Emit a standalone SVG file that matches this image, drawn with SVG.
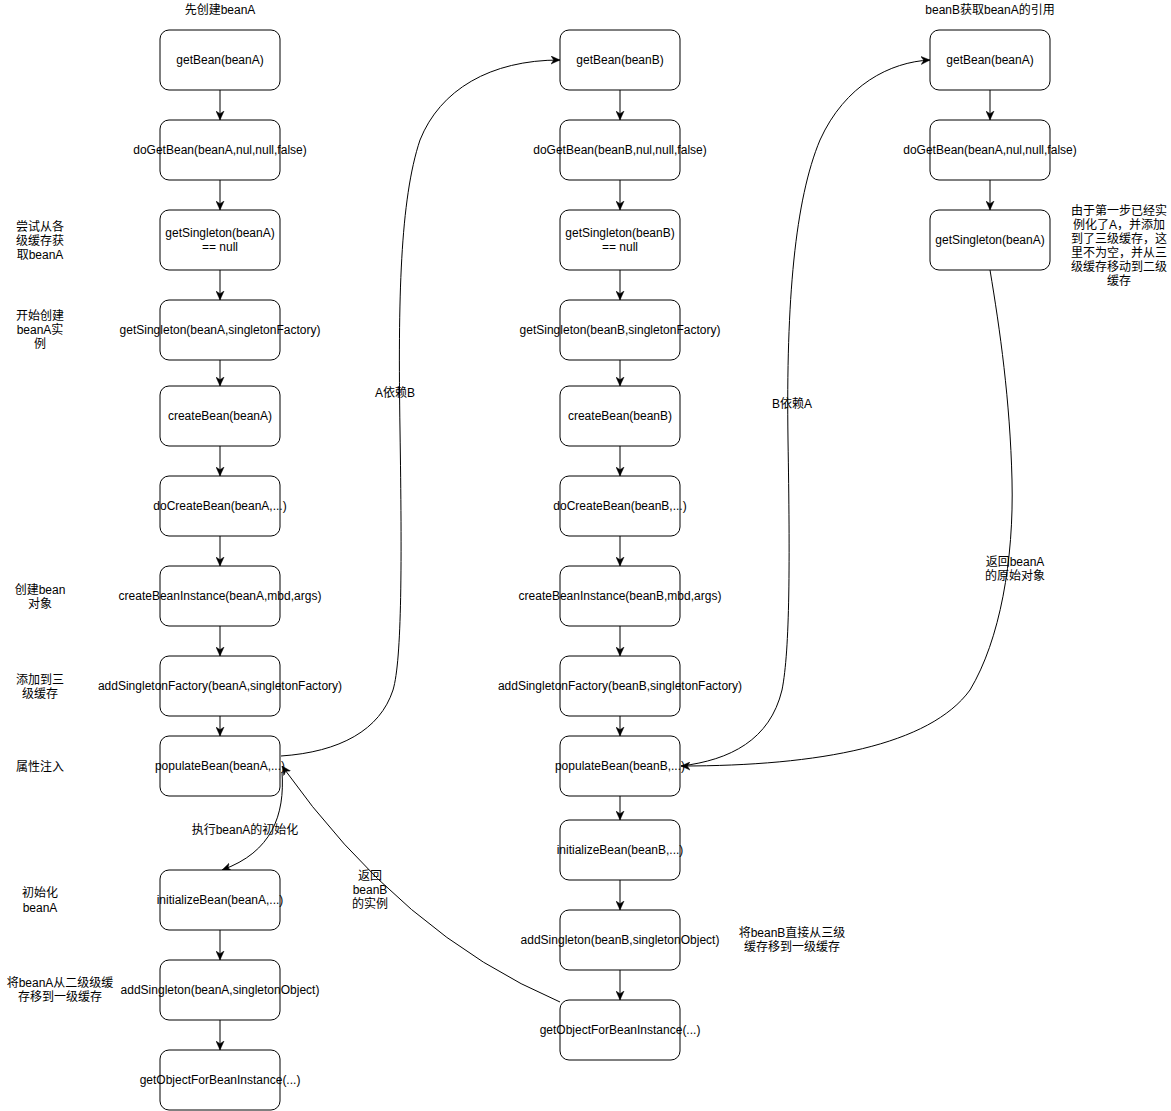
<svg xmlns="http://www.w3.org/2000/svg" width="1171" height="1111" viewBox="0 0 1171 1111">
<style>
.box{fill:#fff;stroke:#000;stroke-width:1}
.t{font-family:"Liberation Sans",Arial,"Noto Sans CJK SC",sans-serif;font-size:12px;fill:#000;text-anchor:middle}
.e{fill:none;stroke:#000;stroke-width:1;marker-end:url(#arr)}
</style>
<defs>
<marker id="arr" markerUnits="userSpaceOnUse" viewBox="0 0 10 10" refX="10" refY="5" markerWidth="9" markerHeight="9" orient="auto">
<path d="M0,0.5 L10,5 L0,9.5 L3,5 z" fill="#000" stroke="#000" stroke-width="0.5"/>
</marker>
</defs>
<rect width="1171" height="1111" fill="#fff"/>

<g id="connectors">
<!-- left column -->
<line class="e" x1="220" y1="90" x2="220" y2="120"/>
<line class="e" x1="220" y1="180" x2="220" y2="210"/>
<line class="e" x1="220" y1="270" x2="220" y2="300"/>
<line class="e" x1="220" y1="360" x2="220" y2="386"/>
<line class="e" x1="220" y1="446" x2="220" y2="476"/>
<line class="e" x1="220" y1="536" x2="220" y2="566"/>
<line class="e" x1="220" y1="626" x2="220" y2="656"/>
<line class="e" x1="220" y1="716" x2="220" y2="736"/>
<line class="e" x1="220" y1="930" x2="220" y2="960"/>
<line class="e" x1="220" y1="1020" x2="220" y2="1050"/>
<!-- middle column -->
<line class="e" x1="620" y1="90" x2="620" y2="120"/>
<line class="e" x1="620" y1="180" x2="620" y2="210"/>
<line class="e" x1="620" y1="270" x2="620" y2="300"/>
<line class="e" x1="620" y1="360" x2="620" y2="386"/>
<line class="e" x1="620" y1="446" x2="620" y2="476"/>
<line class="e" x1="620" y1="536" x2="620" y2="566"/>
<line class="e" x1="620" y1="626" x2="620" y2="656"/>
<line class="e" x1="620" y1="716" x2="620" y2="736"/>
<line class="e" x1="620" y1="796" x2="620" y2="820"/>
<line class="e" x1="620" y1="880" x2="620" y2="910"/>
<line class="e" x1="620" y1="970" x2="620" y2="1000"/>
<!-- right column -->
<line class="e" x1="990" y1="90" x2="990" y2="120"/>
<line class="e" x1="990" y1="180" x2="990" y2="210"/>
<!-- curves -->
<path id="e-AdepB" class="e" d="M281,756 C340,752 380,730 393,690 C402,660 402,560 400,430 C398,300 400,200 420,140 C440,90 490,60 560,60"/>
<text class="t" x="395" y="397">A依赖B</text>
<path id="e-BdepA" class="e" d="M681,766 C730,760 770,740 782,690 C790,650 790,560 788,440 C786,300 795,200 820,140 C845,85 890,62 930,60"/>
<text class="t" x="792" y="408">B依赖A</text>
<path id="e-retA" class="e" d="M990,270 C1000,330 1010,400 1012,480 C1014,560 1000,640 970,690 C930,745 820,766 681,766"/>
<text class="t" x="1015" y="566">返回beanA</text>
<text class="t" x="1015" y="580">的原始对象</text>
<path id="e-retB" class="e" d="M560,1002 Q402,935 282,766"/>
<text class="t" x="370" y="880">返回</text>
<text class="t" x="370" y="894">beanB</text>
<text class="t" x="370" y="908">的实例</text>
<path id="e-init" class="e" d="M282,772 C285,815 272,852 222,870"/>
<text class="t" x="245" y="834">执行beanA的初始化</text>
</g>

<g id="A1"><rect class="box" x="160" y="30" width="120" height="60" rx="9"/><text class="t" x="220" y="64">getBean(beanA)</text></g>
<g id="A2"><rect class="box" x="160" y="120" width="120" height="60" rx="9"/><text class="t" x="220" y="154">doGetBean(beanA,nul,null,false)</text></g>
<g id="A3"><rect class="box" x="160" y="210" width="120" height="60" rx="9"/><text class="t" x="220" y="237">getSingleton(beanA)</text><text class="t" x="220" y="251">== null</text></g>
<g id="A4"><rect class="box" x="160" y="300" width="120" height="60" rx="9"/><text class="t" x="220" y="334">getSingleton(beanA,singletonFactory)</text></g>
<g id="A5"><rect class="box" x="160" y="386" width="120" height="60" rx="9"/><text class="t" x="220" y="420">createBean(beanA)</text></g>
<g id="A6"><rect class="box" x="160" y="476" width="120" height="60" rx="9"/><text class="t" x="220" y="510">doCreateBean(beanA,...)</text></g>
<g id="A7"><rect class="box" x="160" y="566" width="120" height="60" rx="9"/><text class="t" x="220" y="600">createBeanInstance(beanA,mbd,args)</text></g>
<g id="A8"><rect class="box" x="160" y="656" width="120" height="60" rx="9"/><text class="t" x="220" y="690">addSingletonFactory(beanA,singletonFactory)</text></g>
<g id="A9"><rect class="box" x="160" y="736" width="120" height="60" rx="9"/><text class="t" x="220" y="770">populateBean(beanA,...)</text></g>
<g id="A10"><rect class="box" x="160" y="870" width="120" height="60" rx="9"/><text class="t" x="220" y="904">initializeBean(beanA,...)</text></g>
<g id="A11"><rect class="box" x="160" y="960" width="120" height="60" rx="9"/><text class="t" x="220" y="994">addSingleton(beanA,singletonObject)</text></g>
<g id="A12"><rect class="box" x="160" y="1050" width="120" height="60" rx="9"/><text class="t" x="220" y="1084">getObjectForBeanInstance(...)</text></g>

<g id="B1"><rect class="box" x="560" y="30" width="120" height="60" rx="9"/><text class="t" x="620" y="64">getBean(beanB)</text></g>
<g id="B2"><rect class="box" x="560" y="120" width="120" height="60" rx="9"/><text class="t" x="620" y="154">doGetBean(beanB,nul,null,false)</text></g>
<g id="B3"><rect class="box" x="560" y="210" width="120" height="60" rx="9"/><text class="t" x="620" y="237">getSingleton(beanB)</text><text class="t" x="620" y="251">== null</text></g>
<g id="B4"><rect class="box" x="560" y="300" width="120" height="60" rx="9"/><text class="t" x="620" y="334">getSingleton(beanB,singletonFactory)</text></g>
<g id="B5"><rect class="box" x="560" y="386" width="120" height="60" rx="9"/><text class="t" x="620" y="420">createBean(beanB)</text></g>
<g id="B6"><rect class="box" x="560" y="476" width="120" height="60" rx="9"/><text class="t" x="620" y="510">doCreateBean(beanB,...)</text></g>
<g id="B7"><rect class="box" x="560" y="566" width="120" height="60" rx="9"/><text class="t" x="620" y="600">createBeanInstance(beanB,mbd,args)</text></g>
<g id="B8"><rect class="box" x="560" y="656" width="120" height="60" rx="9"/><text class="t" x="620" y="690">addSingletonFactory(beanB,singletonFactory)</text></g>
<g id="B9"><rect class="box" x="560" y="736" width="120" height="60" rx="9"/><text class="t" x="620" y="770">populateBean(beanB,...)</text></g>
<g id="B10"><rect class="box" x="560" y="820" width="120" height="60" rx="9"/><text class="t" x="620" y="854">initializeBean(beanB,...)</text></g>
<g id="B11"><rect class="box" x="560" y="910" width="120" height="60" rx="9"/><text class="t" x="620" y="944">addSingleton(beanB,singletonObject)</text></g>
<g id="B12"><rect class="box" x="560" y="1000" width="120" height="60" rx="9"/><text class="t" x="620" y="1034">getObjectForBeanInstance(...)</text></g>

<g id="C1"><rect class="box" x="930" y="30" width="120" height="60" rx="9"/><text class="t" x="990" y="64">getBean(beanA)</text></g>
<g id="C2"><rect class="box" x="930" y="120" width="120" height="60" rx="9"/><text class="t" x="990" y="154">doGetBean(beanA,nul,null,false)</text></g>
<g id="C3"><rect class="box" x="930" y="210" width="120" height="60" rx="9"/><text class="t" x="990" y="244">getSingleton(beanA)</text></g>

<g id="notes">
<text class="t" x="220" y="14">先创建beanA</text>
<text class="t" x="990" y="14">beanB获取beanA的引用</text>
<text class="t" x="40" y="231">尝试从各</text>
<text class="t" x="40" y="245">级缓存获</text>
<text class="t" x="40" y="259">取beanA</text>
<text class="t" x="40" y="320">开始创建</text>
<text class="t" x="40" y="334">beanA实</text>
<text class="t" x="40" y="348">例</text>
<text class="t" x="40" y="594">创建bean</text>
<text class="t" x="40" y="608">对象</text>
<text class="t" x="40" y="684">添加到三</text>
<text class="t" x="40" y="698">级缓存</text>
<text class="t" x="40" y="771">属性注入</text>
<text class="t" x="40" y="897">初始化</text>
<text class="t" x="40" y="912">beanA</text>
<text class="t" x="60" y="987">将beanA从二级级缓</text>
<text class="t" x="60" y="1001">存移到一级缓存</text>
<text class="t" x="1119" y="215">由于第一步已经实</text>
<text class="t" x="1119" y="229">例化了A，并添加</text>
<text class="t" x="1119" y="243">到了三级缓存，这</text>
<text class="t" x="1119" y="257">里不为空，并从三</text>
<text class="t" x="1119" y="271">级缓存移动到二级</text>
<text class="t" x="1119" y="285">缓存</text>
<text class="t" x="792" y="937">将beanB直接从三级</text>
<text class="t" x="792" y="951">缓存移到一级缓存</text>
</g>
</svg>
